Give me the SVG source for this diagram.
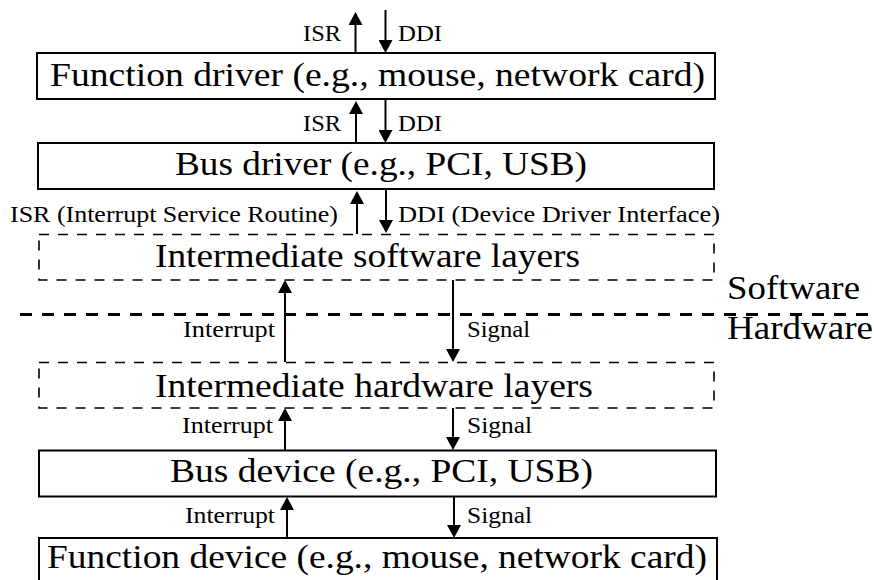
<svg xmlns="http://www.w3.org/2000/svg" width="874" height="580" viewBox="0 0 874 580">
  <style>
    .box { fill: #ffffff; stroke: #000000; stroke-width: 2; }
    .dbox { fill: none; stroke: #000000; stroke-width: 1.6; stroke-dasharray: 10 9; }
    .sep { fill: none; stroke: #000000; stroke-width: 3; stroke-dasharray: 12 10; }
    .arrow { fill: none; stroke: #000000; stroke-width: 2; marker-end: url(#head); }
    text { fill: #000000; font-family: 'Liberation Serif', 'Times New Roman', serif; }
    .big { font-size: 33px; }
    .small { font-size: 24px; }
  </style>
  <defs>
    <marker id="head" markerUnits="userSpaceOnUse" markerWidth="13" markerHeight="14" refX="0" refY="7" orient="auto">
      <path d="M0,0 L13,7 L0,14 Z" fill="#000000"/>
    </marker>
  </defs>

  <rect width="874" height="580" fill="#ffffff"/>

  <!-- software / hardware boundary -->
  <g id="boundary">
    <line class="sep" x1="20" y1="314.5" x2="868" y2="314.5"/>
    <text class="big" x="727" y="299" textLength="133" lengthAdjust="spacingAndGlyphs">Software</text>
    <text class="big" x="727" y="339" textLength="146" lengthAdjust="spacingAndGlyphs">Hardware</text>
  </g>

  <g id="function-driver">
    <rect class="box" x="37" y="53" width="678" height="46"/>
    <text class="big" x="50" y="86" textLength="655" lengthAdjust="spacingAndGlyphs">Function driver (e.g., mouse, network card)</text>
  </g>

  <g id="bus-driver">
    <rect class="box" x="38" y="143" width="676" height="46"/>
    <text class="big" x="175" y="175" textLength="412" lengthAdjust="spacingAndGlyphs">Bus driver (e.g., PCI, USB)</text>
  </g>

  <g id="intermediate-software">
    <rect class="dbox" x="39" y="234.5" width="675" height="45.5"/>
    <text class="big" x="155" y="267" textLength="425" lengthAdjust="spacingAndGlyphs">Intermediate software layers</text>
  </g>

  <g id="intermediate-hardware">
    <rect class="dbox" x="39" y="362.5" width="675" height="45.5"/>
    <text class="big" x="155" y="396.5" textLength="438" lengthAdjust="spacingAndGlyphs">Intermediate hardware layers</text>
  </g>

  <g id="bus-device">
    <rect class="box" x="39" y="450.5" width="677" height="46"/>
    <text class="big" x="170" y="482" textLength="423" lengthAdjust="spacingAndGlyphs">Bus device (e.g., PCI, USB)</text>
  </g>

  <g id="function-device">
    <rect class="box" x="39" y="538" width="678" height="52"/>
    <text class="big" x="47" y="568" textLength="660" lengthAdjust="spacingAndGlyphs">Function device (e.g., mouse, network card)</text>
  </g>

  <!-- connectors: upward = interrupts, downward = calls / signals -->
  <g id="connectors">
    <line class="arrow" x1="355.5" y1="53" x2="355.5" y2="25"/>
    <line class="arrow" x1="385.5" y1="10" x2="385.5" y2="40"/>
    <line class="arrow" x1="356" y1="143" x2="356" y2="114"/>
    <line class="arrow" x1="385.5" y1="99" x2="385.5" y2="130"/>
    <line class="arrow" x1="357" y1="234" x2="357" y2="204"/>
    <line class="arrow" x1="386" y1="189" x2="386" y2="220"/>
    <line class="arrow" x1="285" y1="362" x2="285" y2="293"/>
    <line class="arrow" x1="453" y1="280" x2="453" y2="349"/>
    <line class="arrow" x1="285" y1="450" x2="285" y2="421"/>
    <line class="arrow" x1="453" y1="408" x2="453" y2="437"/>
    <line class="arrow" x1="287" y1="538" x2="287" y2="510"/>
    <line class="arrow" x1="454" y1="497" x2="454" y2="525"/>

    <text class="small" x="303" y="41" textLength="38" lengthAdjust="spacingAndGlyphs">ISR</text>
    <text class="small" x="398" y="41" textLength="44" lengthAdjust="spacingAndGlyphs">DDI</text>
    <text class="small" x="303" y="131" textLength="38" lengthAdjust="spacingAndGlyphs">ISR</text>
    <text class="small" x="398" y="131" textLength="44" lengthAdjust="spacingAndGlyphs">DDI</text>
    <text class="small" x="10" y="221.5" textLength="328" lengthAdjust="spacingAndGlyphs">ISR (Interrupt Service Routine)</text>
    <text class="small" x="398" y="221.5" textLength="322" lengthAdjust="spacingAndGlyphs">DDI (Device Driver Interface)</text>
    <text class="small" x="183" y="337" textLength="92" lengthAdjust="spacingAndGlyphs">Interrupt</text>
    <text class="small" x="467" y="337" textLength="63" lengthAdjust="spacingAndGlyphs">Signal</text>
    <text class="small" x="182" y="433" textLength="91" lengthAdjust="spacingAndGlyphs">Interrupt</text>
    <text class="small" x="467" y="433" textLength="65" lengthAdjust="spacingAndGlyphs">Signal</text>
    <text class="small" x="185" y="523" textLength="90" lengthAdjust="spacingAndGlyphs">Interrupt</text>
    <text class="small" x="467" y="523" textLength="65" lengthAdjust="spacingAndGlyphs">Signal</text>
  </g>
</svg>
